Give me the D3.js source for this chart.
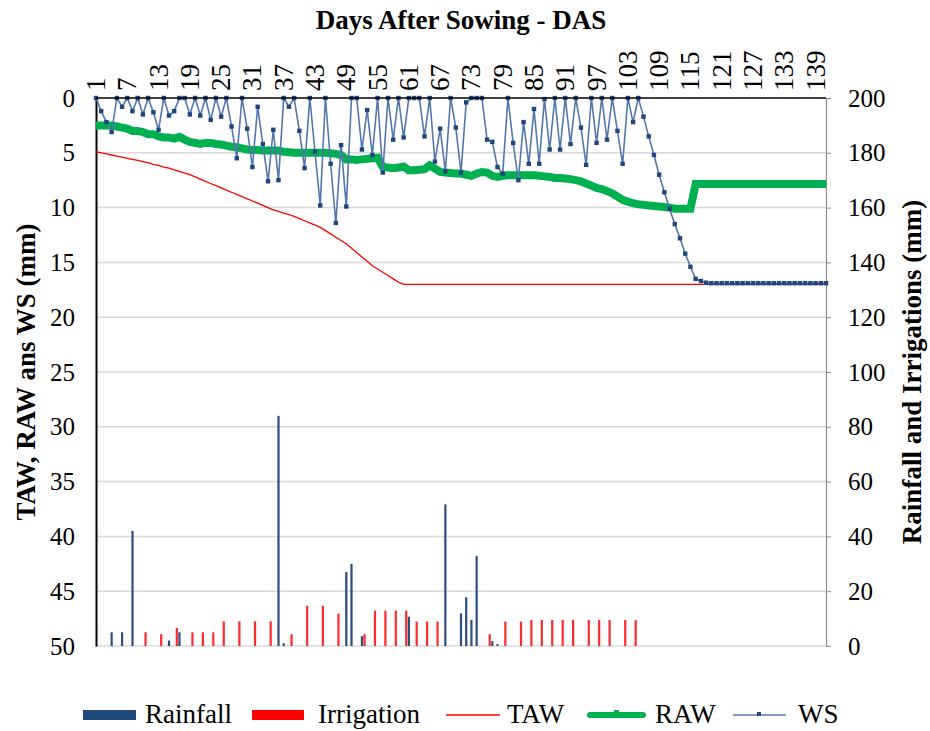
<!DOCTYPE html>
<html>
<head>
<meta charset="utf-8">
<script src="https://cdn.jsdelivr.net/npm/d3@7"></script>
<style>
	body { margin: 0; background: #fff; }
</style>
</head>
<body>
<svg id="chart" width="930" height="731"></svg>
<script>

// tick labels of the top (category) axis
const DAY_TICKS = [1, 7, 13, 19, 25, 31, 37, 43, 49, 55, 61, 67, 73, 79, 85, 91, 97, 103, 109, 115, 121, 127, 133, 139];
const LEFT_TICKS = [0, 5, 10, 15, 20, 25, 30, 35, 40, 45, 50];
const RIGHT_TICKS = [0, 20, 40, 60, 80, 100, 120, 140, 160, 180, 200];

// water stress (mm), one value per day, day 1..141
const WS = [
	0, 1.2, 2.2, 3.1, 0, 0.8, 0, 1.2, 0, 1.5,
	0, 1.3, 2.9, 0, 1.6, 1.2, 0, 0, 1.5, 0,
	1.6, 0, 2.0, 0, 1.7, 0, 2.6, 5.5, 0, 2.8,
	6.3, 0.8, 4.2, 7.6, 2.9, 7.5, 0, 0.8, 0, 3.0,
	6.4, 0, 4.9, 9.8, 0, 6.0, 11.4, 4.3, 9.9, 0,
	0, 4.7, 1.1, 5.2, 0, 6.8, 0, 3.8, 0, 3.6,
	0, 0, 0, 3.5, 0, 5.8, 2.8, 6.7, 0, 2.7,
	6.8, 0.4, 0, 0, 0, 3.8, 4.0, 6.3, 6.9, 0,
	4.1, 7.5, 2.2, 6.0, 1.0, 6.0, 0.1, 4.7, 0, 4.7,
	0, 4.2, 0, 2.7, 6.1, 0, 4.1, 0, 3.8, 0,
	3.0, 6.0, 0, 2.2, 0, 1.7, 3.5, 5.2, 7.0, 8.6,
	10.1, 11.5, 12.8, 14.2, 15.4, 16.5, 16.7, 16.85, 16.9, 16.9,
	16.9, 16.9, 16.9, 16.9, 16.9, 16.9, 16.9, 16.9, 16.9, 16.9,
	16.9, 16.9, 16.9, 16.9, 16.9, 16.9, 16.9, 16.9, 16.9, 16.9,
	16.9
];

// readily available water (mm)
const RAW = [
	2.5, 2.5, 2.5, 2.5, 2.6, 2.7, 2.8, 3.0, 3.0, 3.1,
	3.3, 3.3, 3.5, 3.6, 3.6, 3.7, 3.55, 3.8, 4.0, 4.1,
	4.2, 4.1, 4.1, 4.2, 4.25, 4.35, 4.45, 4.5, 4.6, 4.7,
	4.75, 4.75, 4.8, 4.8, 4.8, 4.8, 4.9, 4.95, 5.0, 5.0,
	5.0, 5.0, 5.0, 5.0, 5.0, 5.05, 5.1, 5.2, 5.6, 5.6,
	5.65, 5.6, 5.55, 5.5, 5.45, 6.3, 6.35, 6.4, 6.35, 6.25,
	6.6, 6.6, 6.55, 6.5, 6.15, 6.45, 6.75, 6.8, 6.85, 6.9,
	6.9, 7.0, 7.1, 6.9, 6.75, 6.8, 7.1, 7.2, 7.1, 7.05,
	7.05, 7.05, 7.05, 7.05, 7.05, 7.1, 7.15, 7.2, 7.3, 7.3,
	7.35, 7.4, 7.5, 7.6, 7.8, 8.0, 8.2, 8.3, 8.5, 8.7,
	9.0, 9.3, 9.45, 9.6, 9.7, 9.75, 9.8, 9.85, 9.9, 9.95,
	10.0, 10.1, 10.1, 10.1, 10.1, 7.85, 7.85, 7.85, 7.85, 7.85,
	7.85, 7.85, 7.85, 7.85, 7.85, 7.85, 7.85, 7.85, 7.85, 7.85,
	7.85, 7.85, 7.85, 7.85, 7.85, 7.85, 7.85, 7.85, 7.85, 7.85,
	7.85
];

// total available water (mm)
const TAW = [
	4.9, 5.0, 5.1, 5.2, 5.3, 5.4, 5.5, 5.6, 5.7, 5.8,
	5.9, 6.05, 6.15, 6.3, 6.4, 6.55, 6.7, 6.85, 7.0, 7.2,
	7.4, 7.6, 7.8, 8.0, 8.2, 8.4, 8.6, 8.8, 9.0, 9.2,
	9.4, 9.6, 9.8, 10.0, 10.2, 10.35, 10.5, 10.65, 10.8, 11.0,
	11.2, 11.4, 11.6, 11.8, 12.1, 12.4, 12.7, 13.0, 13.3, 13.7,
	14.1, 14.5, 14.9, 15.3, 15.6, 15.9, 16.2, 16.5, 16.8, 17.0,
	17, 17, 17, 17, 17, 17, 17, 17, 17, 17,
	17, 17, 17, 17, 17, 17, 17, 17, 17, 17,
	17, 17, 17, 17, 17, 17, 17, 17, 17, 17,
	17, 17, 17, 17, 17, 17, 17, 17, 17, 17,
	17, 17, 17, 17, 17, 17, 17, 17, 17, 17,
	17, 17, 17, 17, 17, 17, 17, 17, 17, 17,
	17, 17, 17, 17, 17, 17, 17, 17, 17, 17,
	17, 17, 17, 17, 17, 17, 17, 17, 17, 17,
	17
];

// rainfall (mm, right axis)
const RAIN_DAYS = [4, 6, 8, 15, 17, 36, 37, 49, 50, 52, 61, 68, 71, 72, 73, 74, 77, 78];
const RAIN_MM   = [5, 5, 42, 2, 5, 84, 1, 27, 30, 3.6, 10.7, 51.7, 11.9, 17.8, 9.5, 32.8, 1.8, 0.7];

// irrigation (mm, right axis)
const IRR_DAYS = [10, 13, 16, 19, 21, 23, 25, 28, 31, 34, 38, 41, 44, 47, 52, 54, 56, 58, 60, 62, 64, 66,
	76, 79, 82, 84, 86, 88, 90, 92, 95, 97, 99, 102, 104];
const IRR_MM   = [5, 4.3, 6.6, 5, 5, 5, 9, 9, 9, 9, 4.3, 14.7, 14.7, 11.8, 4.3, 12.9, 12.9, 12.9, 12.9, 8.9, 8.9, 8.9,
	4.3, 8.9, 8.9, 9.5, 9.5, 9.5, 9.5, 9.5, 9.5, 9.5, 9.5, 9.5, 9.5];

const FONT = '"Liberation Serif", "Times New Roman", "DejaVu Serif", serif';

const svg = d3.select('#chart')
	.attr('font-family', FONT);
const plot_left = 96, plot_right = 826, plot_top = 98, plot_bottom = 646;

const x = d3.scaleLinear().domain([1, WS.length]).range([plot_left, plot_right]);
const y_left = d3.scaleLinear().domain([0, 50]).range([plot_top, plot_bottom]);
const y_right = d3.scaleLinear().domain([0, 200]).range([plot_bottom, plot_top]);

svg.append('rect').attr('width', 930).attr('height', 731).attr('fill', '#fff');

// gridlines
svg.append('g')
	.selectAll('line')
	.data(LEFT_TICKS.slice(1))
	.enter()
	.append('line')
	.attr('x1', plot_left).attr('x2', plot_right)
	.attr('y1', d => y_left(d)).attr('y2', d => y_left(d))
	.attr('stroke', '#d9d9d9').attr('stroke-width', 1.5);

// left axis
const axis_left = svg.append('g')
	.attr('transform', `translate(${plot_left},0)`)
	.call(d3.axisLeft(y_left).tickValues(LEFT_TICKS).tickSize(0).tickPadding(21));
axis_left.attr('font-family', FONT).attr('font-size', 25);
axis_left.select('.domain').attr('stroke', '#000').attr('stroke-width', 2);
axis_left.selectAll('text').attr('fill', '#000');

// right axis
const axis_right = svg.append('g')
	.attr('transform', `translate(${plot_right},0)`)
	.call(d3.axisRight(y_right).tickValues(RIGHT_TICKS).tickSize(5).tickPadding(17));
axis_right.attr('font-family', FONT).attr('font-size', 25);
axis_right.select('.domain').attr('stroke', '#8c8c8c').attr('stroke-width', 1.2);
axis_right.selectAll('line').attr('stroke', '#8c8c8c');
axis_right.selectAll('text').attr('fill', '#000');

// bars
const days = d3.range(1, WS.length + 1);
const bar_w = 2.2;

svg.append('g')
	.selectAll('rect')
	.data(IRR_DAYS)
	.enter()
	.append('rect')
	.attr('x', (d) => x(d + 0.5) - bar_w / 2)
	.attr('y', (d, i) => y_right(IRR_MM[i]))
	.attr('width', bar_w)
	.attr('height', (d, i) => plot_bottom - y_right(IRR_MM[i]))
	.attr('fill', '#ff2b2b');

svg.append('g')
	.selectAll('rect')
	.data(RAIN_DAYS)
	.enter()
	.append('rect')
	.attr('x', (d) => x(d) - bar_w / 2)
	.attr('y', (d, i) => y_right(RAIN_MM[i]))
	.attr('width', bar_w)
	.attr('height', (d, i) => plot_bottom - y_right(RAIN_MM[i]))
	.attr('fill', '#2c4d7e');

// lines
const line_of = (values) => d3.line()
	.x((d, i) => x(days[i]))
	.y(d => y_left(d))(values);

svg.append('path')
	.attr('d', line_of(RAW))
	.attr('fill', 'none')
	.attr('stroke', '#00b050')
	.attr('stroke-width', 8);

svg.append('path')
	.attr('d', line_of(TAW))
	.attr('fill', 'none')
	.attr('stroke', '#ff0000')
	.attr('stroke-width', 1.3);

svg.append('path')
	.attr('d', line_of(WS))
	.attr('fill', 'none')
	.attr('stroke', '#5277ad')
	.attr('stroke-width', 1.6);

svg.append('g')
	.selectAll('rect')
	.data(WS)
	.enter()
	.append('rect')
	.attr('x', (d, i) => x(days[i]) - 2.2)
	.attr('y', d => y_left(d) - 2.2)
	.attr('width', 4.4)
	.attr('height', 4.4)
	.attr('fill', '#1f467f');

// top axis line (drawn over the markers)
svg.append('line')
	.attr('x1', plot_left).attr('x2', plot_right)
	.attr('y1', plot_top).attr('y2', plot_top)
	.attr('stroke', '#000').attr('stroke-width', 1.5);

// top category labels, rotated to read upwards
svg.append('g')
	.selectAll('text')
	.data(DAY_TICKS)
	.enter()
	.append('text')
	.attr('transform', d => `translate(${x(d) + 9},${plot_top - 7}) rotate(-90)`)
	.attr('font-size', 27)
	.text(d => d);

// titles
svg.append('text')
	.attr('x', 461).attr('y', 29)
	.attr('text-anchor', 'middle')
	.attr('font-size', 27).attr('font-weight', 'bold')
	.text('Days After Sowing - DAS');

svg.append('text')
	.attr('transform', `translate(35,${(plot_top + plot_bottom) / 2}) rotate(-90)`)
	.attr('text-anchor', 'middle')
	.attr('font-size', 27).attr('font-weight', 'bold')
	.text('TAW, RAW ans WS (mm)');

svg.append('text')
	.attr('transform', `translate(921,${(plot_top + plot_bottom) / 2}) rotate(-90)`)
	.attr('text-anchor', 'middle')
	.attr('font-size', 27).attr('font-weight', 'bold')
	.text('Rainfall and Irrigations (mm)');

// legend
const legend = svg.append('g').attr('transform', 'translate(0,715)').attr('font-size', 27);
legend.append('rect').attr('x', 83).attr('y', -5).attr('width', 53).attr('height', 10).attr('fill', '#1f497d');
legend.append('text').attr('x', 145).attr('y', 8).text('Rainfall');
legend.append('rect').attr('x', 252).attr('y', -5).attr('width', 52).attr('height', 10).attr('fill', '#ff0000');
legend.append('text').attr('x', 318).attr('y', 8).text('Irrigation');
legend.append('line').attr('x1', 446).attr('x2', 500).attr('y1', 0).attr('y2', 0).attr('stroke', '#ff0000').attr('stroke-width', 1.3);
legend.append('text').attr('x', 507).attr('y', 8).text('TAW');
legend.append('line').attr('x1', 590).attr('x2', 643).attr('y1', 0).attr('y2', 0).attr('stroke', '#00b050').attr('stroke-width', 6).attr('stroke-linecap', 'round');
legend.append('rect').attr('x', 614).attr('y', -5).attr('width', 5).attr('height', 5).attr('fill', '#00b050');
legend.append('text').attr('x', 655).attr('y', 8).text('RAW');
legend.append('line').attr('x1', 733).attr('x2', 786).attr('y1', 0).attr('y2', 0).attr('stroke', '#5277ad').attr('stroke-width', 1.6);
legend.append('rect').attr('x', 757).attr('y', -3).attr('width', 4).attr('height', 4).attr('fill', '#1f467f');
legend.append('text').attr('x', 798).attr('y', 8).text('WS');

</script>
</body>
</html>
